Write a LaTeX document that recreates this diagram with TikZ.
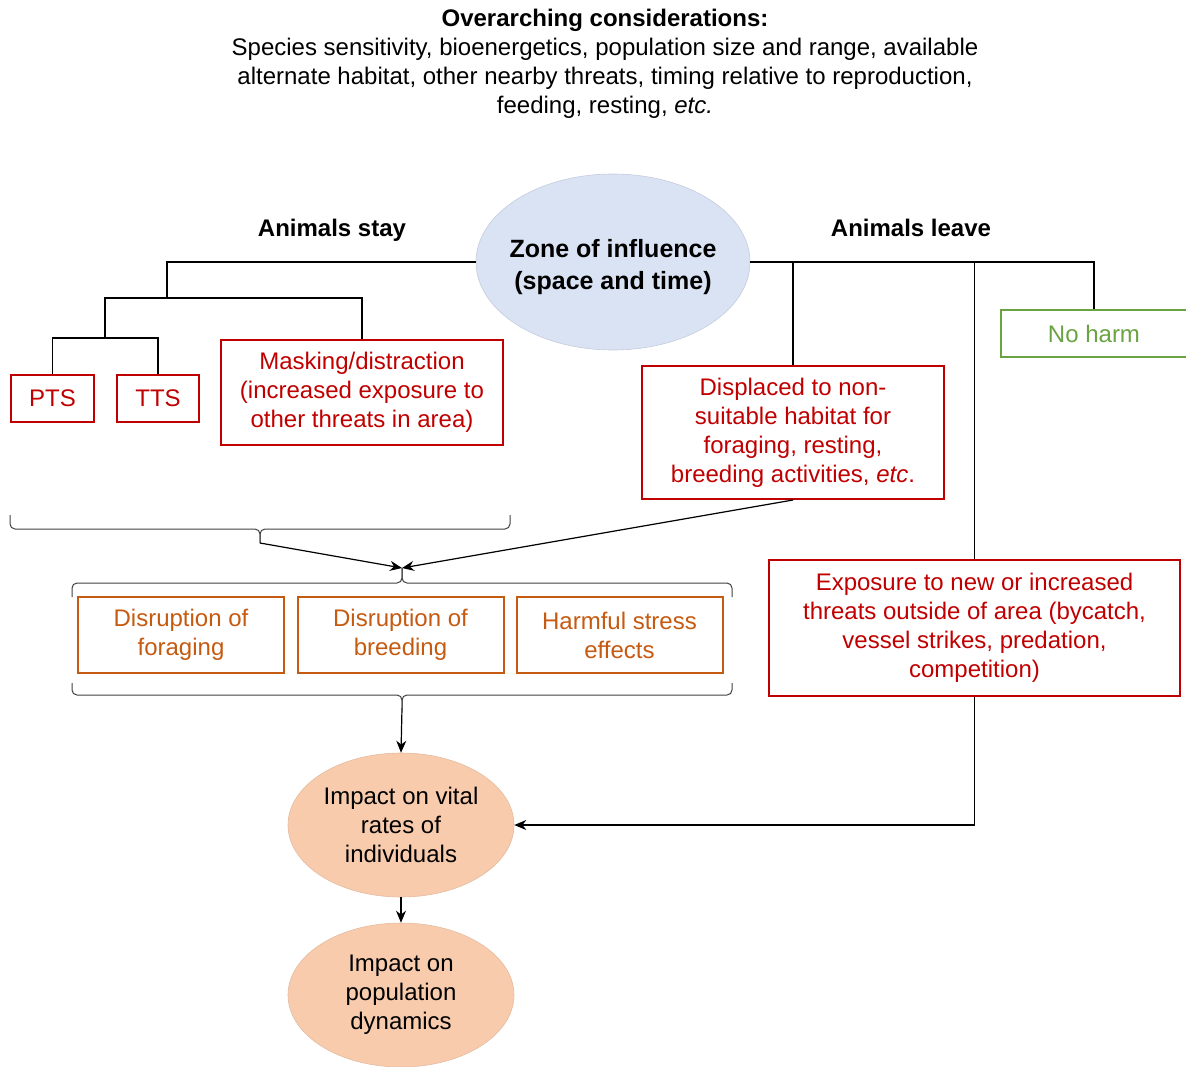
\documentclass[tikz,border=0pt]{standalone}
\usepackage{fontspec}
\setmainfont{Liberation Sans}
\usetikzlibrary{shapes.geometric,arrows.meta}
\definecolor{harmred}{RGB}{192,0,0}
\definecolor{effectorange}{RGB}{197,90,17}
\definecolor{noharmgreen}{RGB}{106,163,66}
\definecolor{zoneblue}{RGB}{218,227,243}
\definecolor{impactpeach}{RGB}{248,203,173}
\begin{document}
\begin{tikzpicture}[x=1pt,y=-1pt,
	every node/.style={font=\fontsize{24}{29}\selectfont,align=center,inner sep=0pt},
	redbox/.style={draw=harmred,text=harmred,line width=2pt,rectangle},
	orangebox/.style={draw=effectorange,text=effectorange,line width=2pt,minimum width=206pt,minimum height=76pt},
	greenbox/.style={draw=noharmgreen,text=noharmgreen,line width=2pt,minimum width=186pt,minimum height=47pt},
	impact/.style={ellipse,fill=impactpeach,draw=impactpeach!92!black,line width=0.6pt,minimum width=226pt,minimum height=144pt},
	link/.style={line width=1.2pt},
	flow/.style={link,-{Stealth[length=12pt,width=10pt]}},
	grpline/.style={line width=1pt,black!75,rounded corners=5pt}]
		\useasboundingbox (0,0) rectangle (1186,1066);

		\node (over) at (605,64) {\textbf{Overarching considerations:}\\
			Species sensitivity, bioenergetics, population size and range, available\\
			alternate habitat, other nearby threats, timing relative to reproduction,\\
			feeding, resting, \textit{etc.}};

		\node[ellipse,fill=zoneblue,draw=zoneblue!90!black,line width=0.6pt,inner xsep=-30pt,minimum width=274pt,minimum height=176pt,font=\fontsize{25}{32}\selectfont\bfseries] (zone) at (613,262) {\rule{0pt}{28pt}Zone of influence\\(space and time)};
		\node[font=\fontsize{24}{29}\selectfont\bfseries] (stay) at (332,230) {Animals stay};
		\node[font=\fontsize{24}{29}\selectfont\bfseries] (leave) at (911,228) {Animals leave};

		\node[redbox,minimum width=83pt,minimum height=47pt] (pts) at (52.5,398.5) {PTS};
		\node[redbox,minimum width=82pt,minimum height=47pt] (tts) at (158,398.5) {TTS};
		\node[redbox,minimum width=282pt,minimum height=105pt] (mask) at (362,392.5) {Masking/distraction\\(increased exposure to\\other threats in area)};
		\node[redbox,minimum width=302pt,minimum height=133pt] (disp) at (793,432.5) {Displaced to non-\\suitable habitat for\\foraging, resting,\\breeding activities, \textit{etc}.};
		\node[greenbox] (noharm) at (1094,333.5) {No harm};
		\node[redbox,minimum width=411pt,minimum height=136pt] (expo) at (974.5,628) {Exposure to new or increased\\threats outside of area (bycatch,\\vessel strikes, predation,\\competition)};

		\node[orangebox] (forage) at (181,635) {Disruption of\\foraging};
		\node[orangebox] (breed) at (400.5,635) {Disruption of\\breeding};
		\node[orangebox] (stress) at (619.5,635) {Harmful stress\\effects};

		\node[impact] (vital) at (401,825) {Impact on vital\\rates of\\individuals};
		\node[impact] (popdyn) at (401,995) {Impact on\\population\\dynamics};

		\coordinate (stayJ) at (167,298);
		\coordinate (hearJ) at (105,338);
		\coordinate (stayTip) at (260,543);
		\coordinate (grpTop) at (402,568);
		\coordinate (grpBot) at (402,708);

		\draw[link] (zone.west) -| (stayJ);
		\draw[link] (hearJ) |- (mask.north |- stayJ) -- (mask.north);
		\draw[link] (pts.north) |- (tts.north |- hearJ) -- (tts.north);
		\draw[link] (zone.east) -| (noharm.north);
		\draw[link] (disp.north) -- (disp.north |- zone.east);
		\draw[link] (expo.north) -- (expo.north |- zone.east);

		\draw[grpline] (10,515) |- (stayTip |- 0,529) -- (stayTip);
		\draw[grpline] (510,515) |- (stayTip |- 0,529) -- (stayTip);
		\draw[grpline] (72,597) |- (grpTop |- 0,583) -- (grpTop);
		\draw[grpline] (732,597) |- (grpTop |- 0,583) -- (grpTop);
		\draw[grpline] (72,683) |- (grpBot |- 0,695) -- (grpBot);
		\draw[grpline] (732,683) |- (grpBot |- 0,695) -- (grpBot);

		\draw[flow] (stayTip) -- (grpTop);
		\draw[flow] (disp.south) -- (grpTop);
		\draw[flow] (grpBot) -- (vital.north);
		\draw[flow] (expo.south) |- (vital.east);
		\draw[flow] (vital.south) -- (popdyn.north);
	\end{tikzpicture}
\end{document}
